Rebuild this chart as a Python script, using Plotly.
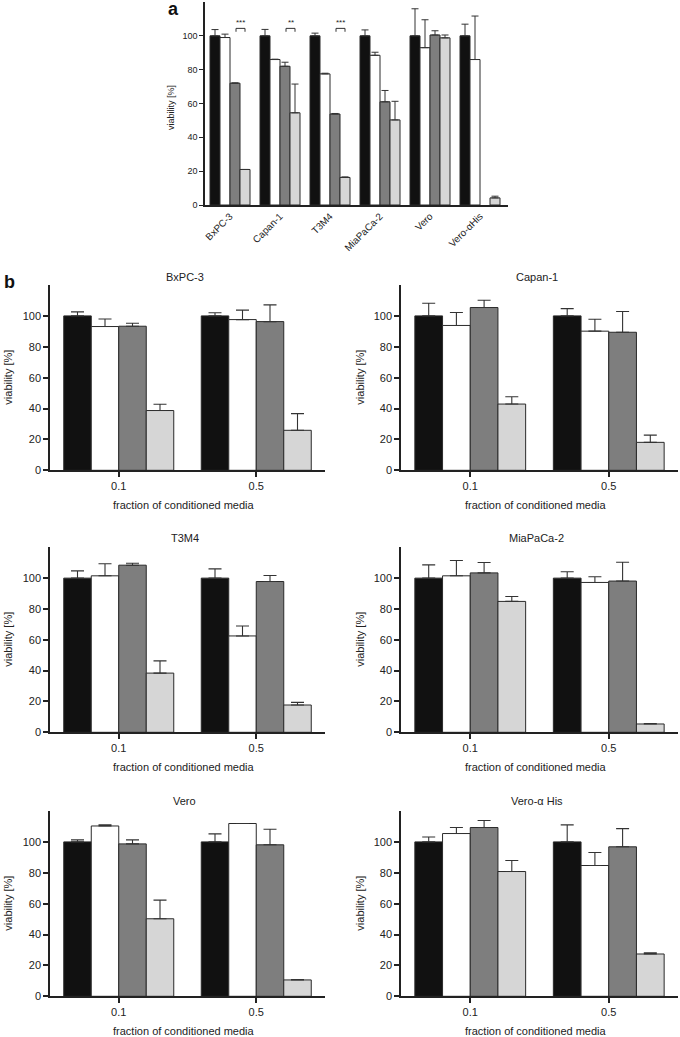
import plotly.graph_objects as go

# ---------------- data ----------------
# panel a
a_categories = ["BxPC-3", "Capan-1", "T3M4", "MiaPaCa-2", "Vero", "Vero-αHis"]
a_black = [100, 100, 100, 100, 100, 100]
a_black_sd = [3.7, 3.8, 1.6, 3.5, 16.0, 6.9]
a_white = [99, 86, 77.5, 88.5, 93, 86]
a_white_sd = [2.0, 0.2, 0.4, 1.8, 16.5, 25.7]
a_dark = [72, 82, 53.8, 61, 100.5, None]
a_dark_sd = [0.2, 2.4, 0.3, 6.7, 2.5, 0]
a_light = [21, 54.5, 16.3, 50.3, 98.8, 4.2]
a_light_sd = [0.0, 17.0, 0.3, 11.0, 1.7, 1.0]
a_sig_index = [0, 1, 2]
a_sig_labels = ["***", "**", "***"]

# panel b
b_titles = ["BxPC-3", "Capan-1", "T3M4", "MiaPaCa-2", "Vero", "Vero-α His"]
b_fractions = ["0.1", "0.5"]
b_black = [[100, 100], [100, 100], [100, 100], [100, 100], [100, 100], [100, 100]]
b_black_sd = [[2.6, 2.0], [8.2, 4.7], [4.7, 6.0], [8.6, 4.1], [1.3, 5.2], [3.2, 11.0]]
b_white = [[93.1, 97.6], [93.8, 90.1], [101.5, 62.5], [101.5, 97.2], [110.3, 111.9], [105.4, 84.7]]
b_white_sd = [[4.9, 6.1], [8.4, 7.7], [7.8, 6.5], [9.9, 3.7], [0.7, 0.0], [3.9, 8.4]]
b_dark = [[93.3, 96.3], [105.4, 89.4], [108.4, 97.8], [103.4, 98.1], [98.7, 98.1], [109.3, 96.8]]
b_dark_sd = [[1.9, 10.8], [4.7, 13.4], [1.3, 3.9], [6.7, 12.2], [2.6, 10.1], [4.5, 11.8]]
b_light = [[38.7, 25.9], [42.9, 18.1], [38.4, 17.7], [84.9, 5.4], [50.2, 10.6], [80.8, 27.4]]
b_light_sd = [[4.1, 10.8], [4.7, 4.7], [7.9, 1.7], [3.2, 0.3], [12.1, 0.2], [7.1, 0.7]]

y_ticks = [0, 20, 40, 60, 80, 100]

# ---------------- style ----------------
W, H = 680, 1037
FONT = "Liberation Sans, Arial, sans-serif"
TXT = "#222222"
FILLS = ["#111111", "#ffffff", "#7e7e7e", "#d6d6d6"]
OUTLINE = "#2a2a2a"
NAMES = ["black", "white", "dark grey", "light grey"]


def px_x(x):
    return x / W


def px_y(y):
    return 1 - y / H


fig = go.Figure()


def add_bars(values_list, sd_list, xcats, xa, ya, cap, thick):
    for k, (vals, sds) in enumerate(zip(values_list, sd_list)):
        fig.add_trace(go.Bar(
            x=xcats, y=vals, name=NAMES[k], showlegend=False,
            xaxis=xa, yaxis=ya,
            marker=dict(color=FILLS[k], line=dict(color=OUTLINE, width=1)),
            error_y=dict(type="data", symmetric=False, array=sds,
                         arrayminus=[0] * len(sds), color="#333333",
                         thickness=thick, width=cap),
        ))


# panel a
add_bars([a_black, a_white, a_dark, a_light],
         [a_black_sd, a_white_sd, a_dark_sd, a_light_sd],
         a_categories, "x", "y", 3.5, 1)

# panel b
b_domains_x = [(50, 325), (401, 678)]
b_domains_y = [(285, 470.3), (547.3, 732.3), (811, 996.3)]
for i in range(6):
    n = i + 2
    add_bars([b_black[i], b_white[i], b_dark[i], b_light[i]],
             [b_black_sd[i], b_white_sd[i], b_dark_sd[i], b_light_sd[i]],
             b_fractions, f"x{n}", f"y{n}", 6.5, 1.1)

layout = dict(
    template="none",
    width=W, height=H, margin=dict(l=0, r=0, t=0, b=0, pad=0),
    paper_bgcolor="white", plot_bgcolor="white",
    barmode="group", bargap=0.2, bargroupgap=0,
    font=dict(family=FONT, color=TXT, size=10.5),
)

axis_common = dict(showline=True, linecolor="#222222", linewidth=1.5,
                   showgrid=False, zeroline=False, mirror=False, automargin=False)

layout["xaxis"] = dict(axis_common, domain=[px_x(205), px_x(508)], anchor="y",
                       type="category", range=[-0.5, 5.56], ticks="",
                       tickangle=-45, tickfont=dict(size=9.8, color=TXT))
layout["yaxis"] = dict(axis_common, domain=[px_y(205), px_y(2)], anchor="x",
                       range=[0, 120], tickvals=y_ticks, ticks="outside",
                       ticklen=4, tickwidth=1.2, tickcolor="#222",
                       tickfont=dict(size=9, color=TXT))

for i in range(6):
    n = i + 2
    r, c = divmod(i, 2)
    dx = b_domains_x[c]
    dy = b_domains_y[r]
    layout[f"xaxis{n}"] = dict(axis_common, domain=[px_x(dx[0]), px_x(dx[1])],
                               anchor=f"y{n}", type="category", range=[-0.5, 1.5],
                               ticks="outside", ticklen=5, tickwidth=1.5,
                               tickcolor="#222", tickfont=dict(size=11, color=TXT))
    layout[f"yaxis{n}"] = dict(axis_common, domain=[px_y(dy[1]), px_y(dy[0])],
                               anchor=f"x{n}", range=[0, 120], tickvals=y_ticks,
                               ticks="outside", ticklen=5, tickwidth=1.5,
                               tickcolor="#222", tickfont=dict(size=11, color=TXT))

fig.update_layout(**layout)

annotations = []
shapes = []


def label(text, x, y, size, angle=0, xref="paper", yref="paper", color=TXT):
    if xref == "paper":
        x = px_x(x)
    if yref == "paper":
        y = px_y(y)
    annotations.append(dict(text=text, x=x, y=y, xref=xref, yref=yref,
                            xanchor="center", yanchor="middle", showarrow=False,
                            textangle=angle, font=dict(size=size, color=color)))


# panel letters
label("<b>a</b>", 173, 9, 18, color="#111")
label("<b>b</b>", 9, 282, 18, color="#111")

# panel a y title
label("viability [%]", 171, 108, 9, angle=-90)

# significance brackets in panel a
for idx, lab in zip(a_sig_index, a_sig_labels):
    x0, x1 = idx + 0.12, idx + 0.30
    shapes.append(dict(type="path", xref="x", yref="y",
                       path=f"M {x0} 102.4 L {x0} 104.4 L {x1} 104.4 L {x1} 102.4",
                       line=dict(color="#333", width=1)))
    label(lab, (x0 + x1) / 2, 107.6, 8, xref="x", yref="y")

# panel b titles and axis titles
title_y = [277, 538, 801]
for i in range(6):
    r, c = divmod(i, 2)
    dx = b_domains_x[c]
    dy = b_domains_y[r]
    cx = (dx[0] + dx[1]) / 2
    label(b_titles[i], cx - 3, title_y[r], 11)
    label("fraction of conditioned media", cx - 4, dy[1] + 35, 11)
    ylx = 8 if c == 0 else 360
    label("viability [%]", ylx, (dy[0] + dy[1]) / 2, 11, angle=-90)

fig.update_layout(annotations=annotations, shapes=shapes)

fig.write_html("out.html", config={"displayModeBar": False},
               post_script="document.body.style.margin='0';")
